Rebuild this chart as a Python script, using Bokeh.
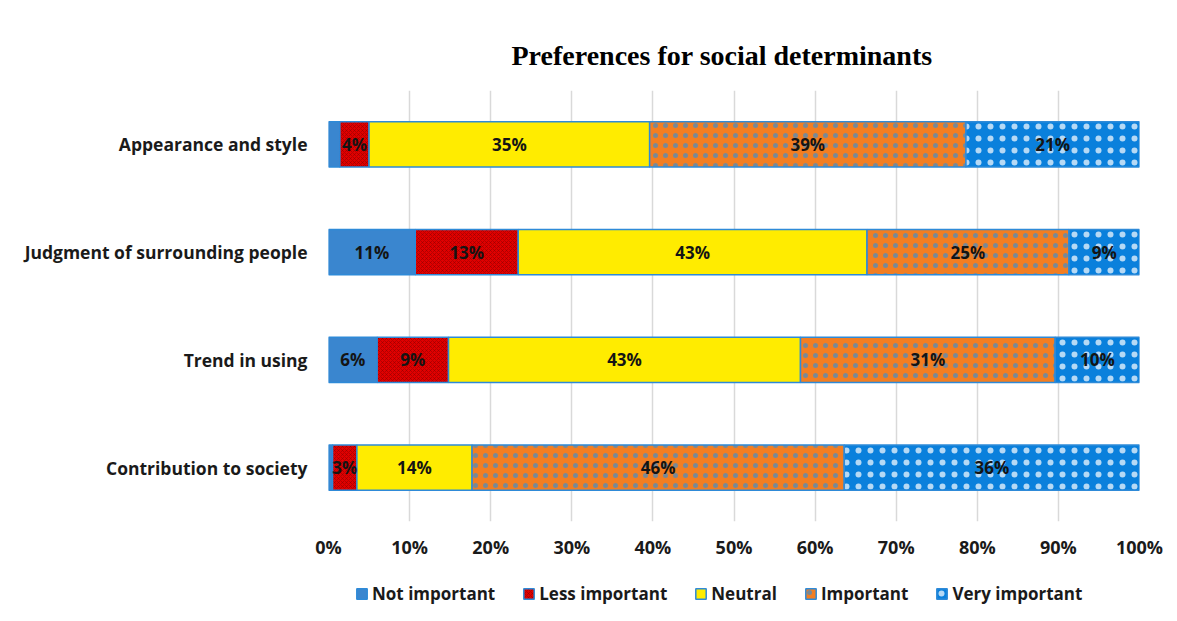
import numpy as np
from bokeh.plotting import figure
from bokeh.layouts import column
from bokeh.models import ColumnDataSource, Legend, LegendItem, FixedTicker, FactorRange, Range1d
from bokeh.core.properties import value
from bokeh.embed import file_html
from bokeh.resources import INLINE

categories = ["Appearance and style", "Judgment of surrounding people",
              "Trend in using", "Contribution to society"]
series = ["Not important", "Less important", "Neutral", "Important", "Very important"]
not_important = [1.4, 10.7, 6.0, 0.5]
less_important = [3.6, 12.7, 8.8, 3.0]
neutral = [34.6, 43.0, 43.4, 14.2]
important = [39.0, 24.9, 31.4, 45.9]
very_important = [21.4, 8.7, 10.4, 36.4]
x_ticks = list(range(0, 101, 10))
tick_labels = [f"{t}%" for t in x_ticks]

values = [not_important, less_important, neutral, important, very_important]
keys = ["s0", "s1", "s2", "s3", "s4"]

data = {"cat": categories}
for k, v in zip(keys, values):
    data[k] = v
src = ColumnDataSource(data)

fills = ["#3a86cf", "#e00000", "#ffec00", "#f27e22", "#0a80dc"]
hatches = ["blank", "diagonal_cross", "blank", "dot", "dot"]
hatch_colors = ["#3a86cf", "#8a0000", "#ffec00", "#2a8fe0", "#ffffff"]
hatch_scales = [8, 4, 8, 10, 12]
hatch_alphas = [1, 0.5, 1, 0.6, 0.7]
style = dict(fill_color=fills, line_color="#2e8ad8", line_width=1.5,
             hatch_pattern=hatches, hatch_color=hatch_colors,
             hatch_scale=hatch_scales, hatch_alpha=hatch_alphas)

p = figure(width=1177, height=561,
           y_range=FactorRange(factors=categories[::-1], range_padding=0),
           x_range=Range1d(0, 100), output_backend="svg", toolbar_location=None,
           min_border_left=328, min_border_right=38, min_border_top=90, min_border_bottom=40)

p.title.text = "Preferences for social determinants"
p.title.text_font = "Liberation Serif"
p.title.text_font_style = "bold"
p.title.text_font_size = "28px"
p.title.align = "left"
p.title.offset = 183
p.title.text_color = "#000000"
p.title.standoff = 40

p.hbar_stack(keys, y="cat", height=0.42, source=src, **style)

# data labels
mat = np.array(values)
cum = np.cumsum(mat, axis=0)
centers = cum - mat / 2
lx, ly, lt = [], [], []
for i in range(len(series)):
    for j, c in enumerate(categories):
        v = mat[i, j]
        if v >= 2:
            lx.append(centers[i, j])
            ly.append(c)
            lt.append(f"{round(v)}%")
lsrc = ColumnDataSource(dict(x=lx, y=ly, t=lt))
p.text(x="x", y="y", text="t", source=lsrc, text_font=value("Open Sans"),
       text_font_style="bold", text_font_size="17px", text_align="center",
       text_baseline="middle", text_color="#141414")

# axes
p.xaxis.ticker = FixedTicker(ticks=x_ticks)
p.xaxis.major_label_overrides = {t: l for t, l in zip(x_ticks, tick_labels)}
p.xaxis.axis_line_color = None
p.xaxis.major_tick_line_color = None
p.xaxis.minor_tick_line_color = None
p.xaxis.major_label_standoff = 7
p.xaxis.major_label_text_font = "Open Sans"
p.xaxis.major_label_text_font_style = "bold"
p.xaxis.major_label_text_font_size = "18px"
p.xaxis.major_label_text_color = "#1a1a1a"

p.yaxis.axis_line_color = None
p.yaxis.major_tick_line_color = None
p.yaxis.minor_tick_line_color = None
p.yaxis.major_label_standoff = 15
p.yaxis.major_label_text_font = "Open Sans"
p.yaxis.major_label_text_font_style = "bold"
p.yaxis.major_label_text_font_size = "17.5px"
p.yaxis.major_label_text_color = "#1a1a1a"

p.xgrid.ticker = FixedTicker(ticks=x_ticks)
p.xgrid.grid_line_color = "#d9d9d9"
p.xgrid.grid_line_width = 1.5
p.ygrid.visible = False
p.outline_line_color = None

# legend strip below the chart; its own range holds none of the categories,
# so its renderers draw no bars and only supply the legend swatches
q = figure(width=1177, height=60, y_range=FactorRange(factors=["legend"]),
           x_range=Range1d(0, 100), output_backend="svg", toolbar_location=None,
           min_border_left=328, min_border_right=38, min_border_top=0, min_border_bottom=0)
q.axis.visible = False
q.grid.visible = False
q.outline_line_color = None
leg_renderers = q.hbar_stack(keys, y="cat", height=0.42, source=src, **style)

legend = Legend(items=[LegendItem(label=s, renderers=[r]) for s, r in zip(series, leg_renderers)],
                orientation="horizontal", location=(27, 16), spacing=27,
                label_standoff=4, glyph_width=13, glyph_height=13,
                label_text_font="Open Sans", label_text_font_style="bold",
                label_text_font_size="17px", label_text_color="#1a1a1a",
                border_line_color=None, background_fill_alpha=0, padding=0, margin=0)
q.add_layout(legend, "center")

layout = column(p, q, spacing=0)
open("out.html", "w").write(file_html(layout, INLINE))
